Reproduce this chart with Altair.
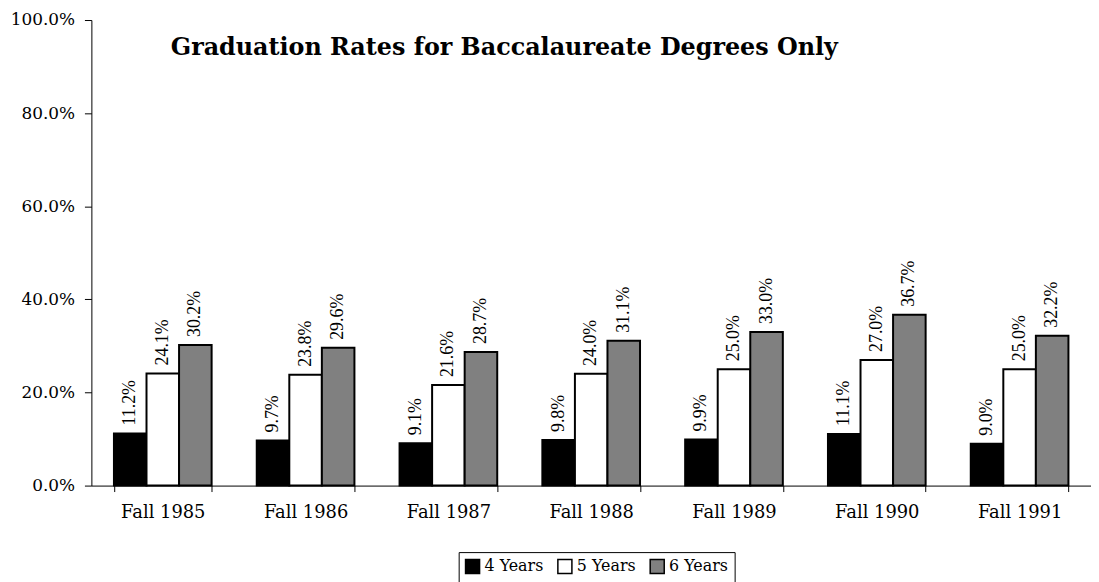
import altair as alt
import pandas as pd

years = ["Fall 1985", "Fall 1986", "Fall 1987", "Fall 1988", "Fall 1989", "Fall 1990", "Fall 1991"]
series = ["4 Years", "5 Years", "6 Years"]
four_years = [11.2, 9.7, 9.1, 9.8, 9.9, 11.1, 9.0]
five_years = [24.1, 23.8, 21.6, 24.0, 25.0, 27.0, 25.0]
six_years = [30.2, 29.6, 28.7, 31.1, 33.0, 36.7, 32.2]
colors = ["#000000", "#ffffff", "#808080"]
title_text = "Graduation Rates for Baccalaureate Degrees Only"

rows = []
for s, vals in zip(series, [four_years, five_years, six_years]):
    for y, v in zip(years, vals):
        rows.append({"year": y, "series": s, "value": v / 100.0})
df = pd.DataFrame(rows)

SERIF = "DejaVu Serif"

x_enc = alt.X(
    "year:N",
    sort=years,
    title=None,
    scale=alt.Scale(paddingInner=0.316, paddingOuter=0.158),
    axis=alt.Axis(
        labelAngle=0,
        labelFont=SERIF,
        labelFontSize=18,
        labelColor="black",
        labelPadding=12,
        domainColor="black",
        tickColor="black",
        tickSize=6,
        tickBand="extent",
    ),
)
y_enc = alt.Y(
    "value:Q",
    title=None,
    scale=alt.Scale(domain=[0, 1], nice=False),
    axis=alt.Axis(
        format=".1%",
        values=[0, 0.2, 0.4, 0.6, 0.8, 1.0],
        grid=False,
        labelFont=SERIF,
        labelFontSize=17,
        labelColor="black",
        labelPadding=10,
        domainColor="black",
        tickColor="black",
        tickSize=7,
    ),
)
xoff = alt.XOffset("series:N", sort=series, scale=alt.Scale(paddingInner=0, paddingOuter=0))

base = alt.Chart(df)

bars = base.mark_bar(stroke="black", strokeWidth=2).encode(
    x=x_enc,
    xOffset=xoff,
    y=y_enc,
    color=alt.Color(
        "series:N",
        sort=series,
        scale=alt.Scale(domain=series, range=colors),
        legend=alt.Legend(
            title=None,
            orient="none",
            legendX=370,
            legendY=536,
            direction="horizontal",
            symbolType="square",
            symbolSize=200,
            symbolStrokeColor="black",
            symbolStrokeWidth=1.5,
            symbolOpacity=1,
            labelFont=SERIF,
            labelFontSize=16,
            labelColor="black",
            labelOffset=4,
            columnPadding=10,
            strokeColor="black",
            padding=6,
        ),
    ),
)

labels = base.mark_text(
    angle=270,
    align="left",
    baseline="middle",
    dx=8,
    font="Liberation Serif",
    fontSize=18,
    color="black",
).encode(
    x=alt.X("year:N", sort=years),
    xOffset=xoff,
    y=alt.Y("value:Q"),
    text=alt.Text("value:Q", format=".1%"),
)

title = alt.Chart(pd.DataFrame({"t": [title_text]})).mark_text(
    align="left",
    baseline="alphabetic",
    font=SERIF,
    fontSize=24,
    fontWeight="bold",
    color="black",
).encode(x=alt.value(80), y=alt.value(35), text="t:N")

chart = (
    alt.layer(bars, labels, title)
    .properties(
        width=1007,
        height=469,
        autosize=alt.AutoSizeParams(type="none"),
        padding={"left": 84, "top": 10, "right": 0, "bottom": 95},
        background="white",
    )
    .configure_view(stroke=None)
)

chart.save("out.html", embed_options={"renderer": "svg", "actions": False})
